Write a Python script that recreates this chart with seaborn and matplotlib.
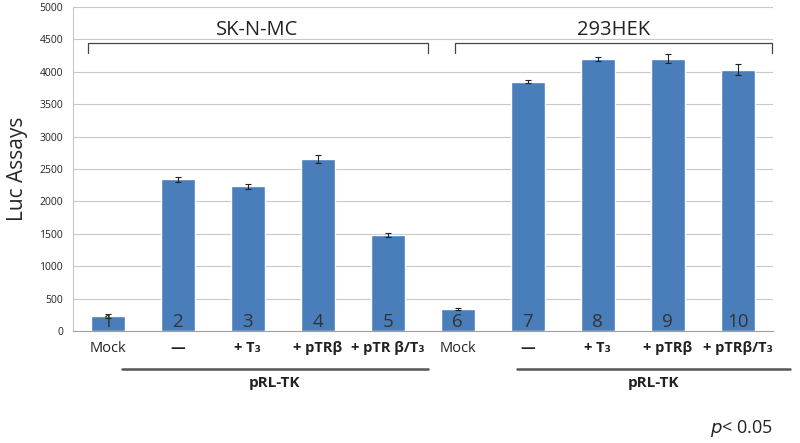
import seaborn as sns
import matplotlib.pyplot as plt
import pandas as pd
import numpy as np

# bar values
bar_ids = ["1", "2", "3", "4", "5", "6", "7", "8", "9", "10"]
luc = [235, 2340, 2235, 2650, 1480, 340, 3850, 4200, 4205, 4035]
err = [30, 35, 40, 60, 35, 15, 20, 35, 75, 90]
tick_labels = ["Mock", "\u2014", "+ T\u2083", "+ pTR\u03b2", "+ pTR \u03b2/T\u2083",
               "Mock", "\u2014", "+ T\u2083", "+ pTR\u03b2", "+ pTR\u03b2/T\u2083"]
groups = ["SK-N-MC", "293HEK"]

sns.set_style("white")
plt.rcParams['font.family'] = ['Open Sans', 'DejaVu Sans']

df = pd.DataFrame({"bar": bar_ids, "luc": luc})

fig = plt.figure(figsize=(8, 4.43), dpi=100)
ax = fig.add_axes([0.091, 0.253, 0.875, 0.731])
sns.barplot(data=df, x="bar", y="luc", order=bar_ids, color="#4a7ebb",
            saturation=1, width=0.48, errorbar=None, ax=ax)
ax.errorbar(range(len(luc)), luc, yerr=err, fmt="none", ecolor="#222222",
            elinewidth=0.8, capsize=2, capthick=0.8)

ax.set_ylim(0, 5000)
ax.set_xlim(-0.5, 9.5)
ax.set_yticks(range(0, 5001, 500))
ax.tick_params(axis="y", labelsize=7.5, length=0, pad=7, colors="#222222")
ax.grid(axis="y", color="#c8c8c8", linewidth=0.8)
ax.set_axisbelow(True)
for s in ["top", "right"]:
    ax.spines[s].set_visible(False)
ax.spines["left"].set_color("#c8c8c8")
ax.spines["bottom"].set_color("#a0a0a0")

ax.set_xticks(range(10))
ax.set_xticklabels(tick_labels, fontsize=10.5)
for i, t in enumerate(ax.get_xticklabels()):
    if tick_labels[i] != "Mock":
        t.set_fontweight("bold")
ax.tick_params(axis="x", length=0, pad=7, colors="#222222")
ax.set_xticks(np.arange(-0.5, 10, 1), minor=True)
ax.tick_params(axis="x", which="minor", length=4, color="#a0a0a0")
ax.set_xlabel("")
ax.set_ylabel("Luc Assays", fontsize=15, labelpad=8)

# numbers inside bars
for i, b in enumerate(bar_ids):
    ax.text(i, 0, b, ha="center", va="bottom", fontsize=13.5, color="#333333")

# brackets with cell line names
for (x0, x1), name in zip([(-0.29, 4.57), (4.96, 9.49)], groups):
    ax.plot([x0, x0, x1, x1], [4290, 4445, 4445, 4290], color="#444444",
            linewidth=0.9, clip_on=False)
    ax.text((x0 + x1) / 2, 4650, name, ha="center", va="center", fontsize=14.5,
            color="#222222")

# pRL-TK lines below the axis
trans = ax.get_xaxis_transform()
for x0, x1 in [(0.2, 4.57), (5.84, 9.74)]:
    ax.plot([x0, x1], [-0.117, -0.117], transform=trans, color="#555555",
            linewidth=1.8, clip_on=False)
    ax.text((x0 + x1) / 2, -0.16, "pRL-TK", transform=trans, ha="center",
            va="center", fontsize=11, fontweight="bold", color="#222222")

fig.text(0.888, 0.022, "$p$< 0.05", fontsize=13, color="#222222")

fig.savefig("out.png", dpi=100)
